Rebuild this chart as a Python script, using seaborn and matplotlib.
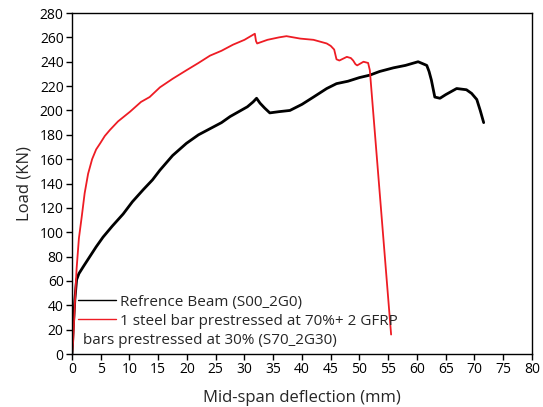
import matplotlib
matplotlib.use("Agg")
import matplotlib.pyplot as plt
import seaborn as sns
import pandas as pd
from matplotlib.lines import Line2D

# Reference beam (S00_2G0)
ref_x = [0, 0.2, 0.5, 0.8, 1.2, 2, 3.1, 4.2, 5.4, 7, 8.9, 10.5, 12.4, 14, 15.3, 17.5, 19.9, 22, 24, 26,
         27.5, 29, 30.5, 31.5, 32.1, 32.7, 33.5, 34.4, 36, 37.9, 40, 42, 44.3, 46, 48, 50, 51.8, 53.5,
         55.9, 58, 60.2, 61.2, 61.7, 62.1, 62.5, 63.1, 64, 65, 66.9, 68.6, 69.5, 70.4, 71, 71.6]
ref_y = [0, 20, 45, 61, 66, 72, 80, 88, 96, 105, 115, 125, 135, 143, 151, 163, 173, 180, 185, 190,
         195, 199, 203, 207, 210, 206, 202, 198, 199, 200, 205, 211, 218, 222, 224, 227, 229, 232,
         235, 237, 240, 238, 237, 232, 225, 211, 210, 213, 218, 217, 214, 209, 200, 190]

# Prestressed beam (S70_2G30)
pre_x = [0, 0.2, 0.5, 0.8, 1.2, 1.7, 2.2, 2.8, 3.5, 4.2, 4.9, 5.7, 6.6, 8, 10.1, 12, 13.5, 15.3, 17.5,
         19.9, 22, 24, 26, 28, 30, 31.8, 32.0, 32.2, 34, 36, 37.3, 39.7, 42, 44.3, 45.0, 45.6, 46.0,
         46.5, 47.8, 48.5, 48.9, 49.3, 49.6, 50.7, 51.5, 51.8, 55.5]
pre_y = [0, 10, 42, 70, 95, 113, 132, 148, 160, 168, 173, 179, 184, 191, 199, 207, 211, 219, 226,
         233, 239, 245, 249, 254, 258, 263, 257, 255, 258, 260, 261, 259, 258, 255, 253, 250, 242,
         241, 244, 243, 241, 238, 237, 240, 239, 233, 16]

label_ref = "Refrence Beam (S00_2G0)"
label_pre_1 = "1 steel bar prestressed at 70%+ 2 GFRP"
label_pre_2 = "bars prestressed at 30% (S70_2G30)"
x_ticks = list(range(0, 81, 5))
y_ticks = list(range(0, 281, 20))

sns.set_style("ticks")
plt.rcParams['font.family'] = ['Open Sans', 'DejaVu Sans']

fig = plt.figure(figsize=(5.43, 4.07), dpi=100)
ax = fig.add_axes([0.1326, 0.1302, 0.8471, 0.8378])

df_ref = pd.DataFrame({"x": ref_x, "y": ref_y})
df_pre = pd.DataFrame({"x": pre_x, "y": pre_y})
sns.lineplot(data=df_ref, x="x", y="y", ax=ax, color="black", lw=2.0, sort=False, estimator=None)
sns.lineplot(data=df_pre, x="x", y="y", ax=ax, color="#ee1c24", lw=1.3, sort=False, estimator=None)

ax.set_xlim(0, 80)
ax.set_ylim(0, 280)
ax.set_xticks(x_ticks)
ax.set_yticks(y_ticks)
ax.tick_params(direction="out", length=4, width=1, labelsize=10, pad=2, colors="black")
for s in ax.spines.values():
    s.set_visible(True)
    s.set_linewidth(1.0)
    s.set_color("black")
ax.set_xlabel("Mid-span deflection (mm)", fontsize=12, labelpad=9)
ax.set_ylabel("Load (KN)", fontsize=12, labelpad=5)

handles = [Line2D([], [], color="black", lw=1), Line2D([], [], color="#ee1c24", lw=1)]
ax.legend(handles, [label_ref, label_pre_1], loc="upper left", bbox_to_anchor=(0.005, 0.185),
          frameon=False, fontsize=11, handlelength=2.5, handletextpad=0.27, labelspacing=0.25,
          borderaxespad=0.0, borderpad=0.25)
ax.text(0.024, 0.041, label_pre_2, transform=ax.transAxes, fontsize=11, va="center", ha="left")

fig.savefig("out.png", dpi=100)
